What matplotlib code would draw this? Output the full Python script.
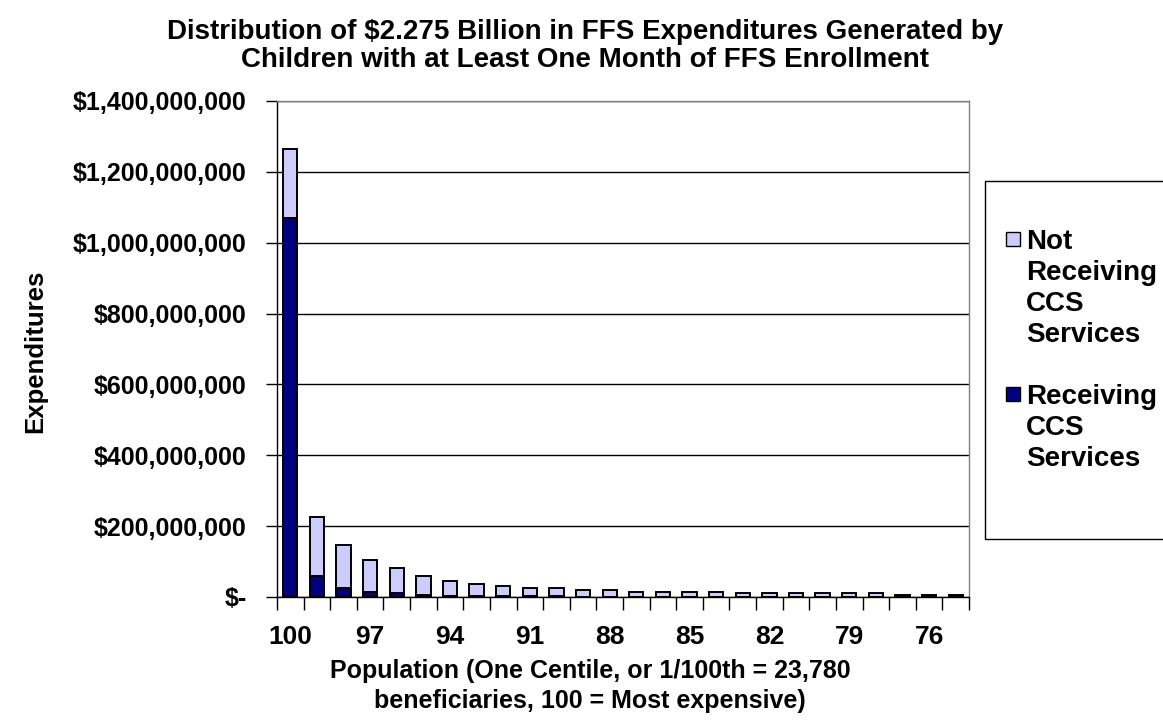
import matplotlib
matplotlib.use("Agg")
import matplotlib.pyplot as plt
from matplotlib.patches import Rectangle
from matplotlib.ticker import FixedLocator, NullFormatter

plt.rcParams['font.family'] = ['Liberation Sans', 'DejaVu Sans']
plt.rcParams['font.weight'] = 'bold'

# ---- data (values in dollars) ----
centiles = list(range(100, 74, -1))  # 100 ... 75
receiving_ccs = [1070e6, 60e6, 25e6, 15e6, 10e6, 5e6, 4e6, 3e6, 2e6, 1.5e6,
                 1.5e6, 1e6, 1e6, 1e6, 1e6, 1e6, 1e6, 0.5e6, 0.5e6, 0.5e6,
                 0.5e6, 0.5e6, 0.5e6, 0.5e6, 0.5e6, 0.5e6]
not_receiving_ccs = [195e6, 165e6, 121e6, 90e6, 71e6, 55e6, 41e6, 33e6, 28e6, 23.5e6,
                     23.5e6, 19e6, 19e6, 14e6, 14e6, 14e6, 14e6, 9.5e6, 9.5e6, 9.5e6,
                     9.5e6, 9.5e6, 9.5e6, 5.5e6, 5.5e6, 5.5e6]
y_ticks = [0, 200e6, 400e6, 600e6, 800e6, 1000e6, 1200e6, 1400e6]
y_tick_labels = ["$-", "$200,000,000", "$400,000,000", "$600,000,000", "$800,000,000",
                 "$1,000,000,000", "$1,200,000,000", "$1,400,000,000"]
x_label_every = 3

title = ("Distribution of $2.275 Billion in FFS Expenditures Generated by\n"
         "Children with at Least One Month of FFS Enrollment")
x_label = ("Population (One Centile, or 1/100th = 23,780\n"
           "beneficiaries, 100 = Most expensive)")
y_label = "Expenditures"
legend_labels = ["Not\nReceiving\nCCS\nServices", "Receiving\nCCS\nServices"]

DARK = "#000080"
LIGHT = "#CCCCFF"

W, H = 1163, 725
fig = plt.figure(figsize=(W / 100, H / 100), dpi=100)

def fx(px):
    return px / W

def fy(py):
    return 1 - py / H

ax = fig.add_axes([fx(277), fy(597), fx(969) - fx(277), fy(101) - fy(597)])

pos = list(range(len(centiles)))
bw = 0.54
ax.bar(pos, receiving_ccs, width=bw, color=DARK, edgecolor="black", linewidth=1.4, zorder=3)
ax.bar(pos, not_receiving_ccs, width=bw, bottom=receiving_ccs, color=LIGHT,
       edgecolor="black", linewidth=1.4, zorder=3)

ax.set_xlim(-0.5, len(centiles) - 0.5)
ax.set_ylim(0, 1400e6)

ax.set_yticks(y_ticks)
ax.set_yticklabels(y_tick_labels, fontsize=18, fontweight='bold')
ax.tick_params(axis='y', length=8, width=1, pad=14, color='black')

major_pos = pos[::x_label_every]
ax.set_xticks(major_pos)
ax.set_xticklabels([str(c) for c in centiles[::x_label_every]], fontsize=19, fontweight='bold')
ax.tick_params(axis='x', which='major', length=0, pad=20)
ax.xaxis.set_minor_locator(FixedLocator([p - 0.5 for p in pos] + [pos[-1] + 0.5]))
ax.xaxis.set_minor_formatter(NullFormatter())
ax.tick_params(axis='x', which='minor', length=9, width=1, color='black')

ax.yaxis.grid(True, color='black', linewidth=1, zorder=0)
ax.set_axisbelow(True)
for s in ['top', 'right']:
    ax.spines[s].set_color('#808080')
    ax.spines[s].set_linewidth(1)
for s in ['left', 'bottom']:
    ax.spines[s].set_color('black')
    ax.spines[s].set_linewidth(1)
ax.spines['bottom'].set_zorder(4)

# title and axis labels
fig.text(fx(585), fy(46), title, ha='center', va='center', fontsize=20,
         fontweight='bold', linespacing=1.12)
fig.text(fx(590), fy(686), x_label, ha='center', va='center', fontsize=18,
         fontweight='bold', linespacing=1.3)
fig.text(fx(35), fy(351), y_label, ha='center', va='center', rotation=90,
         fontsize=18.5, fontweight='bold')

# legend (drawn manually so the swatch sits on the first text line)
fig.patches.append(Rectangle((fx(985), fy(539)), fx(1250) - fx(985), fy(181) - fy(539),
                             transform=fig.transFigure, facecolor='white',
                             edgecolor='black', linewidth=1))
entries = [(LIGHT, legend_labels[0], 239), (DARK, legend_labels[1], 394)]
line_gap = 31
for color, label, first_center in entries:
    fig.patches.append(Rectangle((fx(1006), fy(first_center + 7)), fx(14) - fx(0), fy(0) - fy(14),
                                 transform=fig.transFigure, facecolor=color,
                                 edgecolor='black', linewidth=1))
    for i, line in enumerate(label.split("\n")):
        fig.text(fx(1026), fy(first_center + i * line_gap), line, ha='left',
                 va='center_baseline', fontsize=20, fontweight='bold')

fig.savefig("out.png", dpi=100)
